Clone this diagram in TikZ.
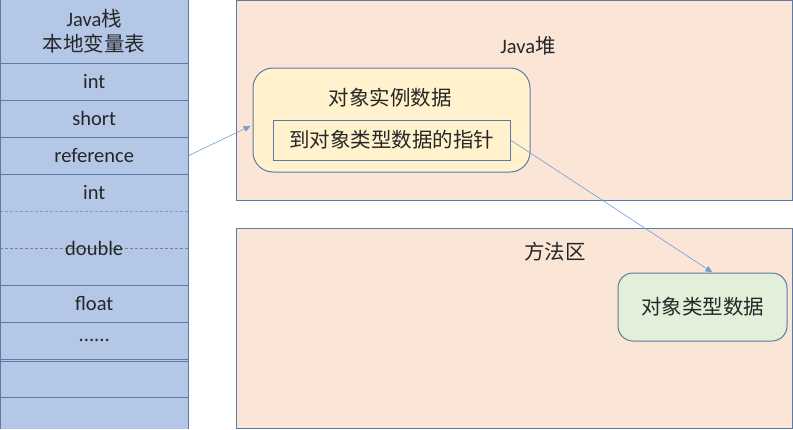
\documentclass[tikz,border=0pt]{standalone}
\usepackage{fontspec}
\setmainfont{Carlito}
\newfontfamily\cjk{Noto Sans CJK SC}
\usetikzlibrary{arrows.meta}

\definecolor{stackfill}{HTML}{B4C7E7}
\definecolor{boxline}{HTML}{5B7BA6}
\definecolor{heapfill}{HTML}{FBE5D6}
\definecolor{instfill}{HTML}{FFF2CC}
\definecolor{typefill}{HTML}{E2F0D9}
\definecolor{linkblue}{HTML}{6F9FD6}
\definecolor{txt}{HTML}{262626}

\tikzset{
  cell/.style={fill=stackfill, minimum width=188pt, anchor=north west, inner sep=0pt, text=txt},
  sep/.style={draw=boxline, line width=1pt},
  area/.style={fill=heapfill, draw=boxline, line width=1pt, anchor=north west, inner sep=0pt},
  inst/.style={fill=instfill, draw=boxline, line width=1pt, rounded corners=20pt},
  ptr/.style={draw=boxline, line width=1pt, text=txt},
  typ/.style={fill=typefill, draw=boxline, line width=1pt, rounded corners=15pt, text=txt},
  title/.style={text=txt},
  link/.style={draw=linkblue, line width=.6pt, -{Triangle[length=7pt,width=6pt]}},
}

\begin{document}
\begin{tikzpicture}[x=1pt,y=-1pt,font=\fontsize{20.5}{25}\selectfont]
\useasboundingbox (0,0) rectangle (793,429);

% Java stack, local variable table
\node[cell, minimum height=63pt, align=center] (head) at (0,0) {Java{\cjk 栈}\\{\cjk 本地变量表}};
\node[cell, minimum height=37pt] (int1) at (0,63) {int};
\node[cell, minimum height=37pt] (short) at (0,100) {short};
\node[cell, minimum height=37pt] (ref) at (0,137) {reference};
\node[cell, minimum height=37pt] (int2) at (0,174) {int};
\node[cell, minimum height=74pt] (dbl) at (0,211) {};
\node[cell, minimum height=37pt] (flt) at (0,285) {float};
\node[cell, minimum height=37pt] (dots) at (0,322) {......};
\node[cell, minimum height=37pt] (free1) at (0,360) {};
\node[cell, minimum height=32pt] (free2) at (0,397) {};

\draw[sep] (head.south west) -- (head.south east);
\draw[sep] (int1.south west) -- (int1.south east);
\draw[sep] (short.south west) -- (short.south east);
\draw[sep] (ref.south west) -- (ref.south east);
\draw[sep, draw=linkblue, line width=.6pt, dash pattern=on 3pt off 2pt] (int2.south west) -- (int2.south east);
\draw[gray, line width=.6pt, dash pattern=on 3pt off 2pt] (dbl.west) -- (dbl.east);
\node[title] (dbltext) at (dbl.center) {double};
\draw[sep] (dbl.south west) -- (dbl.south east);
\draw[sep] (flt.south west) -- (flt.south east);
\draw[sep, line width=.8pt] (dots.south west) -- (dots.south east);
\draw[sep, line width=.8pt] ([yshift=-1.5pt]dots.south west) -- ([yshift=-1.5pt]dots.south east);
\draw[sep] (free1.south west) -- (free1.south east);
\draw[sep] (head.north west) -- (free2.south west);
\draw[sep] (head.north east) -- (free2.south east);

% heap and method area
\node[area, minimum width=556pt, minimum height=200pt] (heap) at (236,0) {};
\node[title] (heaptitle) at (528,46) {Java{\cjk 堆}};
\node[area, minimum width=556pt, minimum height=200pt] (method) at (236,228) {};
\node[title] (methodtitle) at (555,252) {\cjk 方法区};

\node[inst, minimum width=277pt, minimum height=104pt] (inst) at (391.5,120) {};
\node[title] (insttitle) at (390,98) {\cjk 对象实例数据};
\node[ptr, minimum width=237pt, minimum height=40pt] (ptr) at (391.5,140) {\cjk 到对象类型数据的指针};
\node[typ, minimum width=169pt, minimum height=68pt] (typ) at (702.5,307) {\cjk 对象类型数据};

\draw[link, shorten >=2pt] (ref.east) -- ([yshift=-5pt]inst.west);
\draw[link] (ptr.east) -- ([xshift=10pt]typ.north);
\end{tikzpicture}
\end{document}
